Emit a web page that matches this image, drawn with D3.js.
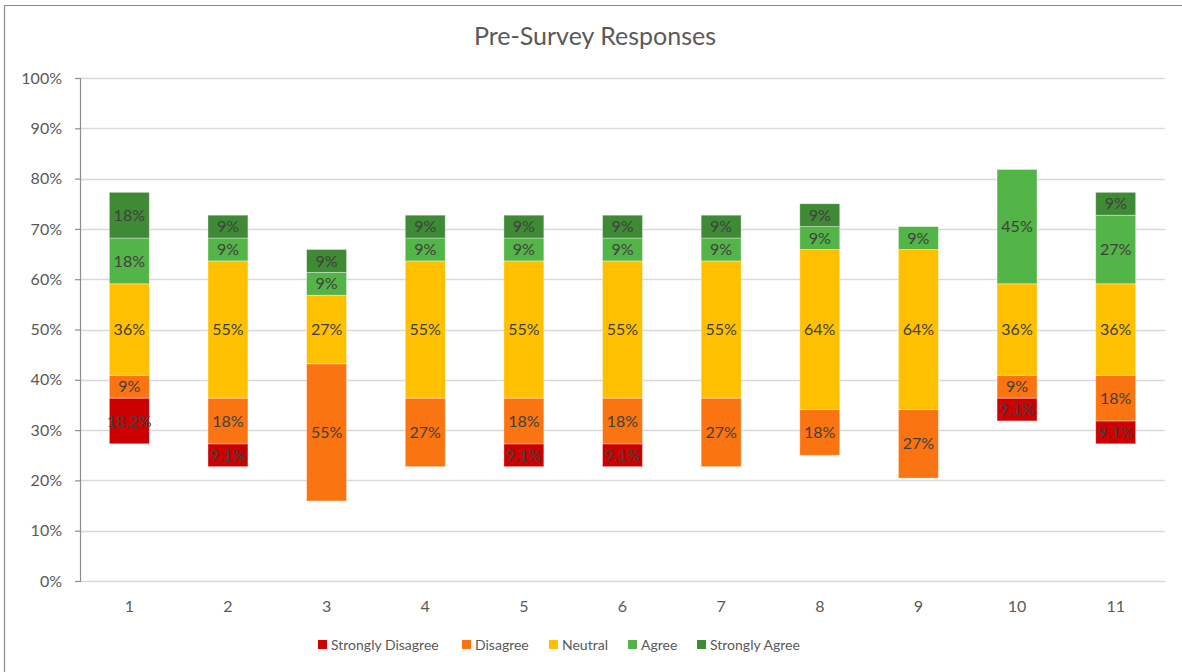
<!DOCTYPE html>
<html>
<head>
<meta charset="utf-8">
<script src="https://cdn.jsdelivr.net/npm/d3@7"></script>
<style>
  html, body { margin: 0; padding: 0; background: #fff; }
  svg { display: block; }
</style>
</head>
<body>
<svg id="chart" width="1182" height="672"></svg>
<script>
// ---- Data (percent of respondents per question) ----
const categories = ["1", "2", "3", "4", "5", "6", "7", "8", "9", "10", "11"];
const seriesNames = ["Strongly Disagree", "Disagree", "Neutral", "Agree", "Strongly Agree"];
const stronglyDisagree = [18.18, 9.09, 0, 0, 9.09, 9.09, 0, 0, 0, 9.09, 9.09];
const disagree         = [9.09, 18.18, 54.55, 27.27, 18.18, 18.18, 27.27, 18.18, 27.27, 9.09, 18.18];
const neutral          = [36.36, 54.55, 27.27, 54.55, 54.55, 54.55, 54.55, 63.64, 63.64, 36.36, 36.36];
const agree            = [18.18, 9.09, 9.09, 9.09, 9.09, 9.09, 9.09, 9.09, 9.09, 45.45, 27.27];
const stronglyAgree    = [18.18, 9.09, 9.09, 9.09, 9.09, 9.09, 9.09, 9.09, 0, 0, 9.09];
const yTicks = [0, 10, 20, 30, 40, 50, 60, 70, 80, 90, 100];
const colors = ["#cc0000", "#fa7412", "#ffc000", "#53b447", "#3f8a35"];

const seriesValues = [stronglyDisagree, disagree, neutral, agree, stronglyAgree];

(function () {
// Diverging layout: segments drawn at half scale, neutral centred on 50%
const rows = categories.map((c, i) => {
  const vals = seriesValues.map(s => s[i]);
  let base = 50 - (vals[0] + vals[1] + vals[2] / 2) / 2;
  return vals.map((v, k) => {
    const s = { cat: c, k, v, y0: base, y1: base + v / 2 };
    base += v / 2;
    return s;
  });
});

const svg = d3.select("#chart");
const font = "Lato, 'Open Sans', sans-serif";

// Frame border (left/top)
svg.append("path")
  .attr("d", "M4.5,672 V5.5 H1182")
  .attr("fill", "none").attr("stroke", "#8c8c8c").attr("stroke-width", 1.2);

const pLeft = 80, pRight = 1165, pTop = 78, pBottom = 581;
const x = d3.scaleBand().domain(categories).range([pLeft, pRight])
  .paddingInner(0.595).paddingOuter(0.2975);
const y = d3.scaleLinear().domain([0, 100]).range([pBottom, pTop]);

// Gridlines
svg.append("g").selectAll("line").data(yTicks).join("line")
  .attr("x1", pLeft).attr("x2", pRight)
  .attr("y1", d => Math.round(y(d)) + 0.5).attr("y2", d => Math.round(y(d)) + 0.5)
  .attr("stroke", "#d9d9d9").attr("stroke-width", 1.3);

// Y axis
const yAxis = svg.append("g").attr("transform", `translate(${pLeft},0)`)
  .call(d3.axisLeft(y).tickValues(yTicks).tickFormat(d => d + "%").tickSize(5).tickPadding(13));
yAxis.select(".domain").attr("stroke", "#8c8c8c").attr("stroke-width", 1.2);
yAxis.selectAll(".tick line").attr("stroke", "#8c8c8c").attr("stroke-width", 1.2);
yAxis.selectAll(".tick text").attr("font-family", font).attr("font-size", 16).attr("fill", "#595959");

// X axis labels
const xAxis = svg.append("g").attr("transform", `translate(0,${pBottom})`)
  .call(d3.axisBottom(x).tickSize(0).tickPadding(20));
xAxis.select(".domain").remove();
xAxis.selectAll(".tick text").attr("font-family", font).attr("font-size", 16).attr("fill", "#595959");

// Bars
const segs = rows.flat().filter(d => d.v > 0);
svg.append("g").selectAll("rect").data(segs).join("rect")
  .attr("x", d => x(d.cat))
  .attr("width", x.bandwidth())
  .attr("y", d => y(d.y1))
  .attr("height", d => y(d.y0) - y(d.y1))
  .attr("fill", d => colors[d.k])
  .attr("stroke", "rgba(255,255,255,0.45)").attr("stroke-width", 0.8);

// Labels
svg.append("g").selectAll("text").data(segs).join("text")
  .attr("x", d => x(d.cat) + x.bandwidth() / 2)
  .attr("y", d => y((d.y0 + d.y1) / 2))
  .attr("dy", "0.35em")
  .attr("text-anchor", "middle")
  .attr("font-family", font).attr("font-size", 16).attr("fill", "#404040")
  .text(d => d.k === 0 ? d.v.toFixed(1) + "%" : Math.round(d.v) + "%");

// Title
svg.append("text").attr("x", 595).attr("y", 45).attr("text-anchor", "middle")
  .attr("font-family", font).attr("font-size", 25).attr("fill", "#595959")
  .text("Pre-Survey Responses");

// Legend
const legendX = [318, 462, 549, 628, 697];
const lg = svg.append("g").selectAll("g").data(seriesNames).join("g")
  .attr("transform", (d, i) => `translate(${legendX[i]},645)`);
lg.append("rect").attr("x", 0).attr("y", -5).attr("width", 9).attr("height", 9)
  .attr("fill", (d, i) => colors[i]);
lg.append("text").attr("x", 13).attr("y", 0).attr("dy", "0.35em")
  .attr("font-family", font).attr("font-size", 14).attr("fill", "#595959")
  .text(d => d);
})();
</script>
</body>
</html>
